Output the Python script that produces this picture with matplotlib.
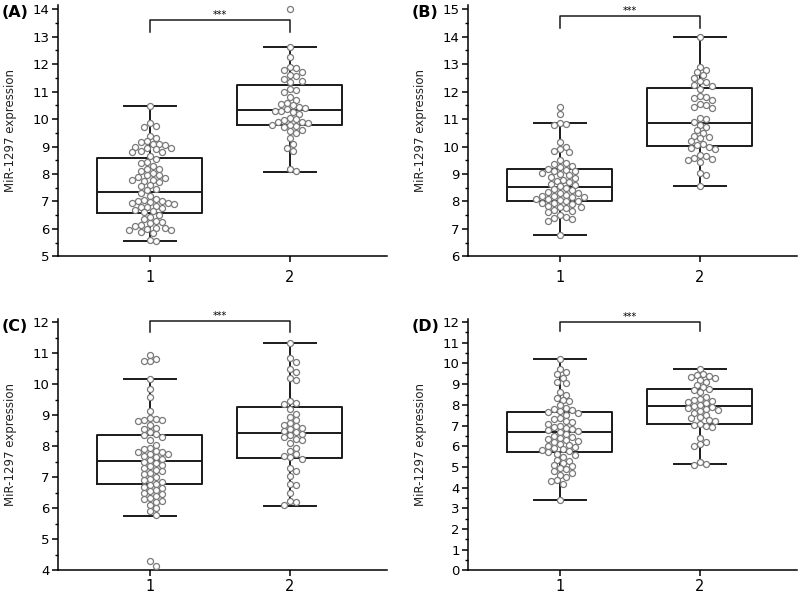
import numpy as np
import matplotlib.pyplot as plt
from matplotlib.ticker import MultipleLocator

## Werte
a1 = [10.47, 9.85, 9.75, 9.72, 9.4, 9.3, 9.2, 9.15, 9.1, 9.1, 9.05, 9.0, 8.95, 8.95, 8.9, 8.85, 8.8, 8.8,
      8.65, 8.55, 8.45, 8.4, 8.3, 8.2, 8.2, 8.1, 8.05, 7.95, 7.95, 7.9, 7.85, 7.8, 7.8, 7.75, 7.7, 7.6,
      7.55, 7.45, 7.4, 7.3, 7.2, 7.1, 7.05, 7.0, 7.0, 6.98, 6.95, 6.95, 6.9, 6.85, 6.8, 6.8, 6.75, 6.7,
      6.65, 6.6, 6.5, 6.45, 6.35, 6.3, 6.25, 6.2, 6.15, 6.1, 6.05, 6.05, 6.0, 5.98, 5.95, 5.9, 5.85,
      5.6, 5.55]
a2 = [14.0, 12.62, 12.25, 11.9, 11.85, 11.8, 11.7, 11.6, 11.55, 11.45, 11.4, 11.35, 11.1, 11.05, 11.0,
      10.8, 10.7, 10.6, 10.55, 10.5, 10.45, 10.4, 10.35, 10.3, 10.3, 10.25, 10.2, 10.05, 10.0, 9.95,
      9.9, 9.9, 9.85, 9.8, 9.8, 9.75, 9.7, 9.6, 9.55, 9.5, 9.3, 9.1, 8.95, 8.85, 8.2, 8.1]
b1 = [11.45, 11.2, 10.85, 10.82, 10.8, 10.15, 10.0, 9.9, 9.85, 9.8, 9.5, 9.4, 9.35, 9.3, 9.25, 9.2,
      9.15, 9.1, 9.1, 9.05, 9.0, 8.95, 8.9, 8.85, 8.8, 8.75, 8.7, 8.65, 8.6, 8.55, 8.5, 8.45, 8.4,
      8.35, 8.3, 8.3, 8.25, 8.2, 8.2, 8.15, 8.15, 8.1, 8.1, 8.05, 8.0, 8.0, 7.95, 7.95, 7.9, 7.85,
      7.8, 7.8, 7.75, 7.7, 7.65, 7.6, 7.5, 7.45, 7.4, 7.35, 7.3, 6.78]
b2 = [14.0, 12.9, 12.8, 12.7, 12.6, 12.5, 12.4, 12.35, 12.25, 12.2, 12.1, 11.85, 11.8, 11.75, 11.7,
      11.55, 11.5, 11.45, 11.4, 11.05, 11.0, 10.9, 10.8, 10.7, 10.6, 10.5, 10.4, 10.35, 10.3, 10.2,
      10.1, 10.05, 10.0, 9.95, 9.9, 9.7, 9.65, 9.6, 9.55, 9.5, 9.45, 9.05, 8.95, 8.55]
c1 = [10.95, 10.8, 10.75, 10.75, 10.18, 9.85, 9.6, 9.15, 8.9, 8.88, 8.85, 8.85, 8.8, 8.7, 8.6, 8.55,
      8.45, 8.4, 8.35, 8.3, 8.2, 8.05, 7.95, 7.9, 7.85, 7.8, 7.8, 7.75, 7.75, 7.7, 7.65, 7.6, 7.55,
      7.5, 7.45, 7.4, 7.35, 7.3, 7.25, 7.2, 7.15, 7.1, 7.0, 6.95, 6.9, 6.85, 6.8, 6.75, 6.7, 6.65,
      6.6, 6.55, 6.5, 6.45, 6.4, 6.35, 6.3, 6.25, 6.2, 6.1, 6.0, 5.9, 5.78, 4.3, 4.15]
c2 = [11.33, 10.85, 10.7, 10.5, 10.4, 10.2, 10.15, 9.45, 9.4, 9.35, 9.2, 9.05, 8.95, 8.85, 8.75, 8.7,
      8.65, 8.6, 8.55, 8.5, 8.45, 8.4, 8.35, 8.3, 8.25, 8.2, 8.1, 7.95, 7.85, 7.75, 7.7, 7.65, 7.6,
      7.3, 7.2, 7.05, 6.8, 6.75, 6.5, 6.25, 6.2, 6.1]
d1 = [10.2, 9.75, 9.6, 9.5, 9.3, 9.1, 9.05, 8.6, 8.5, 8.35, 8.25, 8.2, 8.0, 7.85, 7.8, 7.75, 7.7,
      7.65, 7.6, 7.5, 7.35, 7.3, 7.2, 7.15, 7.1, 7.0, 6.95, 6.9, 6.85, 6.8, 6.75, 6.7, 6.6, 6.5,
      6.45, 6.4, 6.35, 6.3, 6.25, 6.2, 6.1, 6.05, 6.0, 5.95, 5.9, 5.85, 5.8, 5.75, 5.7, 5.65, 5.6,
      5.5, 5.35, 5.3, 5.2, 5.1, 5.05, 4.95, 4.9, 4.8, 4.7, 4.6, 4.5, 4.35, 4.3, 4.2, 3.4]
d2 = [9.75, 9.5, 9.45, 9.4, 9.35, 9.3, 9.2, 9.1, 8.95, 8.85, 8.75, 8.7, 8.6, 8.4, 8.3, 8.25, 8.2,
      8.15, 8.1, 8.0, 7.95, 7.9, 7.85, 7.8, 7.75, 7.7, 7.6, 7.5, 7.4, 7.35, 7.25, 7.2, 7.1, 7.05,
      7.0, 6.95, 6.4, 6.2, 6.1, 6.0, 5.25, 5.15, 5.1]

# Boxplot-Kennwerte: (whislo, q1, med, q3, whishi)
box_a = [(5.55, 6.58, 7.35, 8.6, 10.47), (8.08, 9.8, 10.33, 11.22, 12.62)]
box_b = [(6.77, 8.02, 8.53, 9.17, 10.85), (8.55, 10.03, 10.87, 12.12, 14.0)]
box_c = [(5.77, 6.8, 7.53, 8.35, 10.18), (6.08, 7.62, 8.43, 9.27, 11.33)]
box_d = [(3.4, 5.73, 6.68, 7.68, 10.2), (5.13, 7.07, 7.93, 8.77, 9.72)]

panels = ["(A)", "(B)", "(C)", "(D)"]
groups = [(a1, a2), (b1, b2), (c1, c2), (d1, d2)]
boxes = [box_a, box_b, box_c, box_d]
ylims = [(5, 14.15), (6, 15.15), (4, 12.1), (0, 12.15)]
yticks = [np.arange(5, 15), np.arange(6, 16), np.arange(4, 13), np.arange(0, 13)]
brackets = [(13.6, 13.15), (14.76, 14.3), (12.02, 11.68), (12.02, 11.55)]

pos = [(0.0725, 0.5704), (0.585, 0.5704), (0.0725, 0.0444), (0.585, 0.0444)]


def swarm(ax, x0, vals, d):
    # einfacher Beeswarm in Pixelkoordinaten
    pts = ax.transData.transform([(x0, v) for v in vals])
    placed = []
    step = d * 0.5
    for px, py in pts:
        k = 0
        while True:
            off = ((k + 1) // 2) * step * (1 if k % 2 == 1 else -1)
            cx = px + off
            if all((cx - qx) ** 2 + (py - qy) ** 2 >= (d * 0.95) ** 2 for qx, qy in placed):
                placed.append((cx, py))
                break
            k += 1
    return ax.transData.inverted().transform(placed)


fig = plt.figure(figsize=(8, 5.97), dpi=100)

for i in range(4):
    ax = fig.add_axes([pos[i][0], pos[i][1], 0.411, 0.4213])
    ax.set_xlim(0.343, 2.693)
    ax.set_ylim(*ylims[i])

    stats = []
    for b in boxes[i]:
        stats.append(dict(whislo=b[0], q1=b[1], med=b[2], q3=b[3], whishi=b[4], fliers=[]))
    ax.bxp(stats, positions=[1, 2], widths=0.75, showfliers=False,
           boxprops=dict(color="#1a1a1a", linewidth=1.4),
           whiskerprops=dict(color="#1a1a1a", linewidth=1.4),
           capprops=dict(color="#1a1a1a", linewidth=1.4),
           medianprops=dict(color="#1a1a1a", linewidth=1.4),
           capwidths=0.37, zorder=2)

    for x0, vals in zip([1, 2], groups[i]):
        xy = swarm(ax, x0, vals, 6.0)
        ax.scatter(xy[:, 0], xy[:, 1], s=19, facecolor="white", edgecolor="#7a7a7a",
                   linewidth=0.9, zorder=3)

    top, drop = brackets[i]
    ax.plot([1, 1, 2, 2], [drop, top, top, drop], color="#1a1a1a", linewidth=1.1, clip_on=False)
    ax.text(1.5, top, "***", ha="center", va="bottom", fontsize=7)

    ax.spines["top"].set_visible(False)
    ax.spines["right"].set_visible(False)
    for s in ["left", "bottom"]:
        ax.spines[s].set_linewidth(1.1)
    ax.set_xticks([1, 2])
    ax.set_xticklabels(["1", "2"])
    ax.set_yticks(yticks[i])
    ax.yaxis.set_minor_locator(MultipleLocator(0.5))
    ax.tick_params(axis="y", which="major", labelsize=9.5, length=4, width=1.1, pad=2)
    ax.tick_params(axis="y", which="minor", length=2.5, width=1.0)
    ax.tick_params(axis="x", which="major", labelsize=10.5, length=4, width=1.1,
                   pad=6 if i < 2 else 2)
    ax.set_ylabel("MiR-1297 expression", fontsize=8.5, color="#222222", labelpad=11)

    ax.text(-0.17, 1.0, panels[i], transform=ax.transAxes, fontsize=11.5,
            fontweight="bold", ha="left", va="top")

fig.savefig("out.png", dpi=100)
